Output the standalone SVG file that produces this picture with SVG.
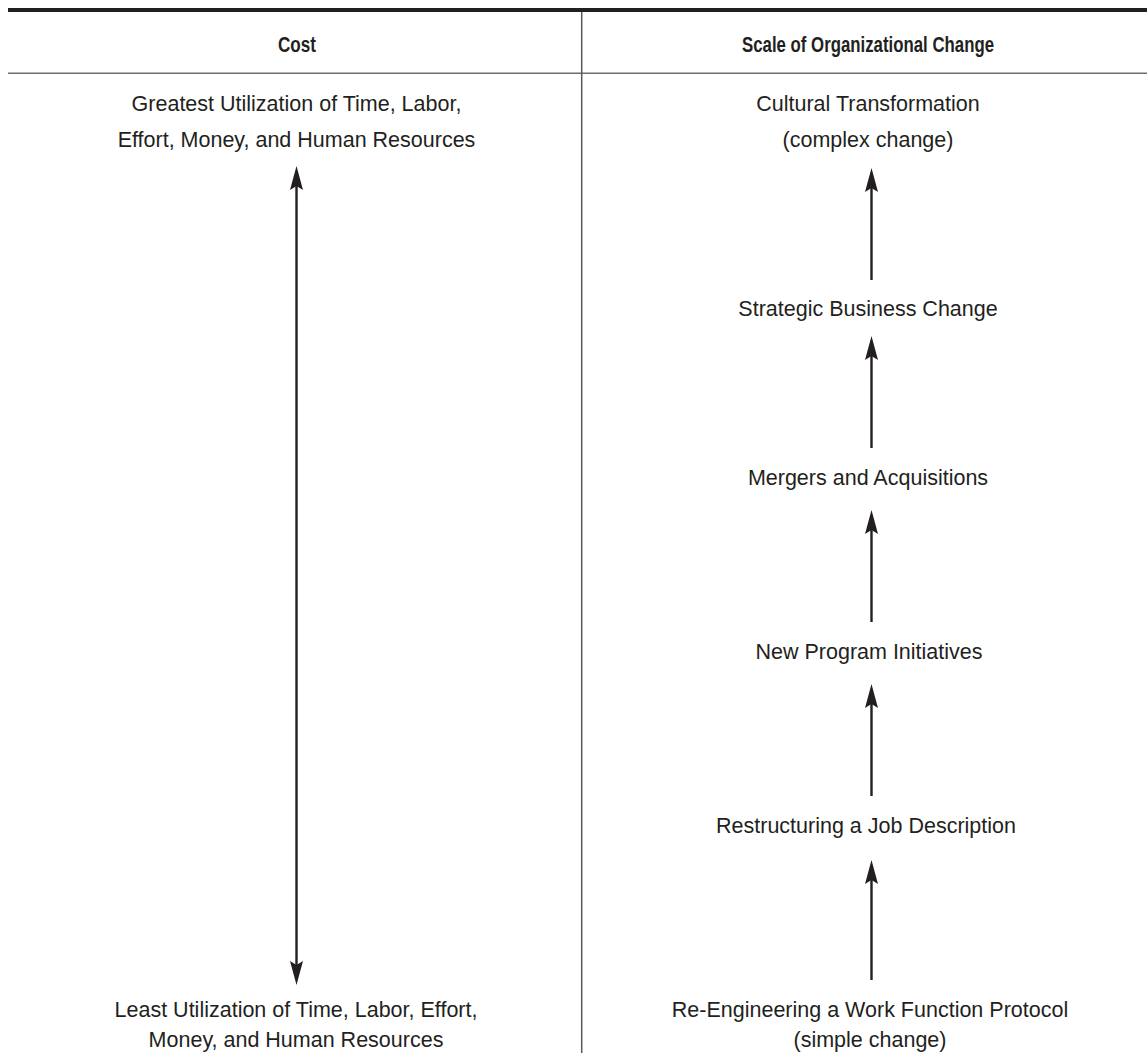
<svg xmlns="http://www.w3.org/2000/svg" width="1147" height="1053" viewBox="0 0 1147 1053">
<style>
.t{font-family:"Liberation Sans",Arial,sans-serif;font-size:21.5px;fill:#231f20;text-anchor:middle}
.h{font-family:"Liberation Sans",Arial,sans-serif;font-size:22.5px;font-weight:bold;fill:#231f20;text-anchor:middle}
.ar{stroke:#231f20;stroke-width:2.4;fill:none}
</style>
<defs>
<marker id="ah" viewBox="0 0 24 13" refX="4" refY="6.5" markerWidth="24" markerHeight="13" markerUnits="userSpaceOnUse" orient="auto-start-reverse">
<path d="M0,0 L24,6.5 L0,13 L4,6.5 Z" fill="#231f20"/>
</marker>
</defs>
<g id="table">
<rect x="8" y="8" width="1139" height="4" fill="#231f20"/>
<line x1="8" y1="73.3" x2="1147" y2="73.3" stroke="#6d6e71" stroke-width="1.5"/>
<line x1="581.7" y1="12" x2="581.7" y2="1053" stroke="#58595b" stroke-width="1.5"/>
</g>
<g id="header-cost"><text class="h" x="297" y="52" textLength="38" lengthAdjust="spacingAndGlyphs">Cost</text></g>
<g id="header-scale"><text class="h" x="868" y="52" textLength="252" lengthAdjust="spacingAndGlyphs">Scale of Organizational Change</text></g>
<g id="cost-greatest"><text class="t" x="296.5" y="111">Greatest Utilization of Time, Labor,</text><text class="t" x="296.5" y="147">Effort, Money, and Human Resources</text></g>
<g id="cost-least"><text class="t" x="296" y="1017">Least Utilization of Time, Labor, Effort,</text><text class="t" x="296" y="1047">Money, and Human Resources</text></g>
<g id="n-cultural"><text class="t" x="868" y="111">Cultural Transformation</text><text class="t" x="868" y="147">(complex change)</text></g>
<g id="n-strategic"><text class="t" x="868" y="316">Strategic Business Change</text></g>
<g id="n-mergers"><text class="t" x="868" y="485">Mergers and Acquisitions</text></g>
<g id="n-new"><text class="t" x="869" y="659">New Program Initiatives</text></g>
<g id="n-restructuring"><text class="t" x="866" y="833">Restructuring a Job Description</text></g>
<g id="n-reengineering"><text class="t" x="870" y="1017">Re-Engineering a Work Function Protocol</text><text class="t" x="870" y="1047">(simple change)</text></g>
<g id="connectors">
<line class="ar" x1="296.5" y1="186" x2="296.5" y2="965" marker-start="url(#ah)" marker-end="url(#ah)"/>
<line class="ar" x1="871.5" y1="280" x2="871.5" y2="188" marker-end="url(#ah)"/>
<line class="ar" x1="871.5" y1="448" x2="871.5" y2="356" marker-end="url(#ah)"/>
<line class="ar" x1="871.5" y1="622" x2="871.5" y2="530" marker-end="url(#ah)"/>
<line class="ar" x1="871.5" y1="796" x2="871.5" y2="704" marker-end="url(#ah)"/>
<line class="ar" x1="871.5" y1="980" x2="871.5" y2="880" marker-end="url(#ah)"/>
</g>
</svg>
